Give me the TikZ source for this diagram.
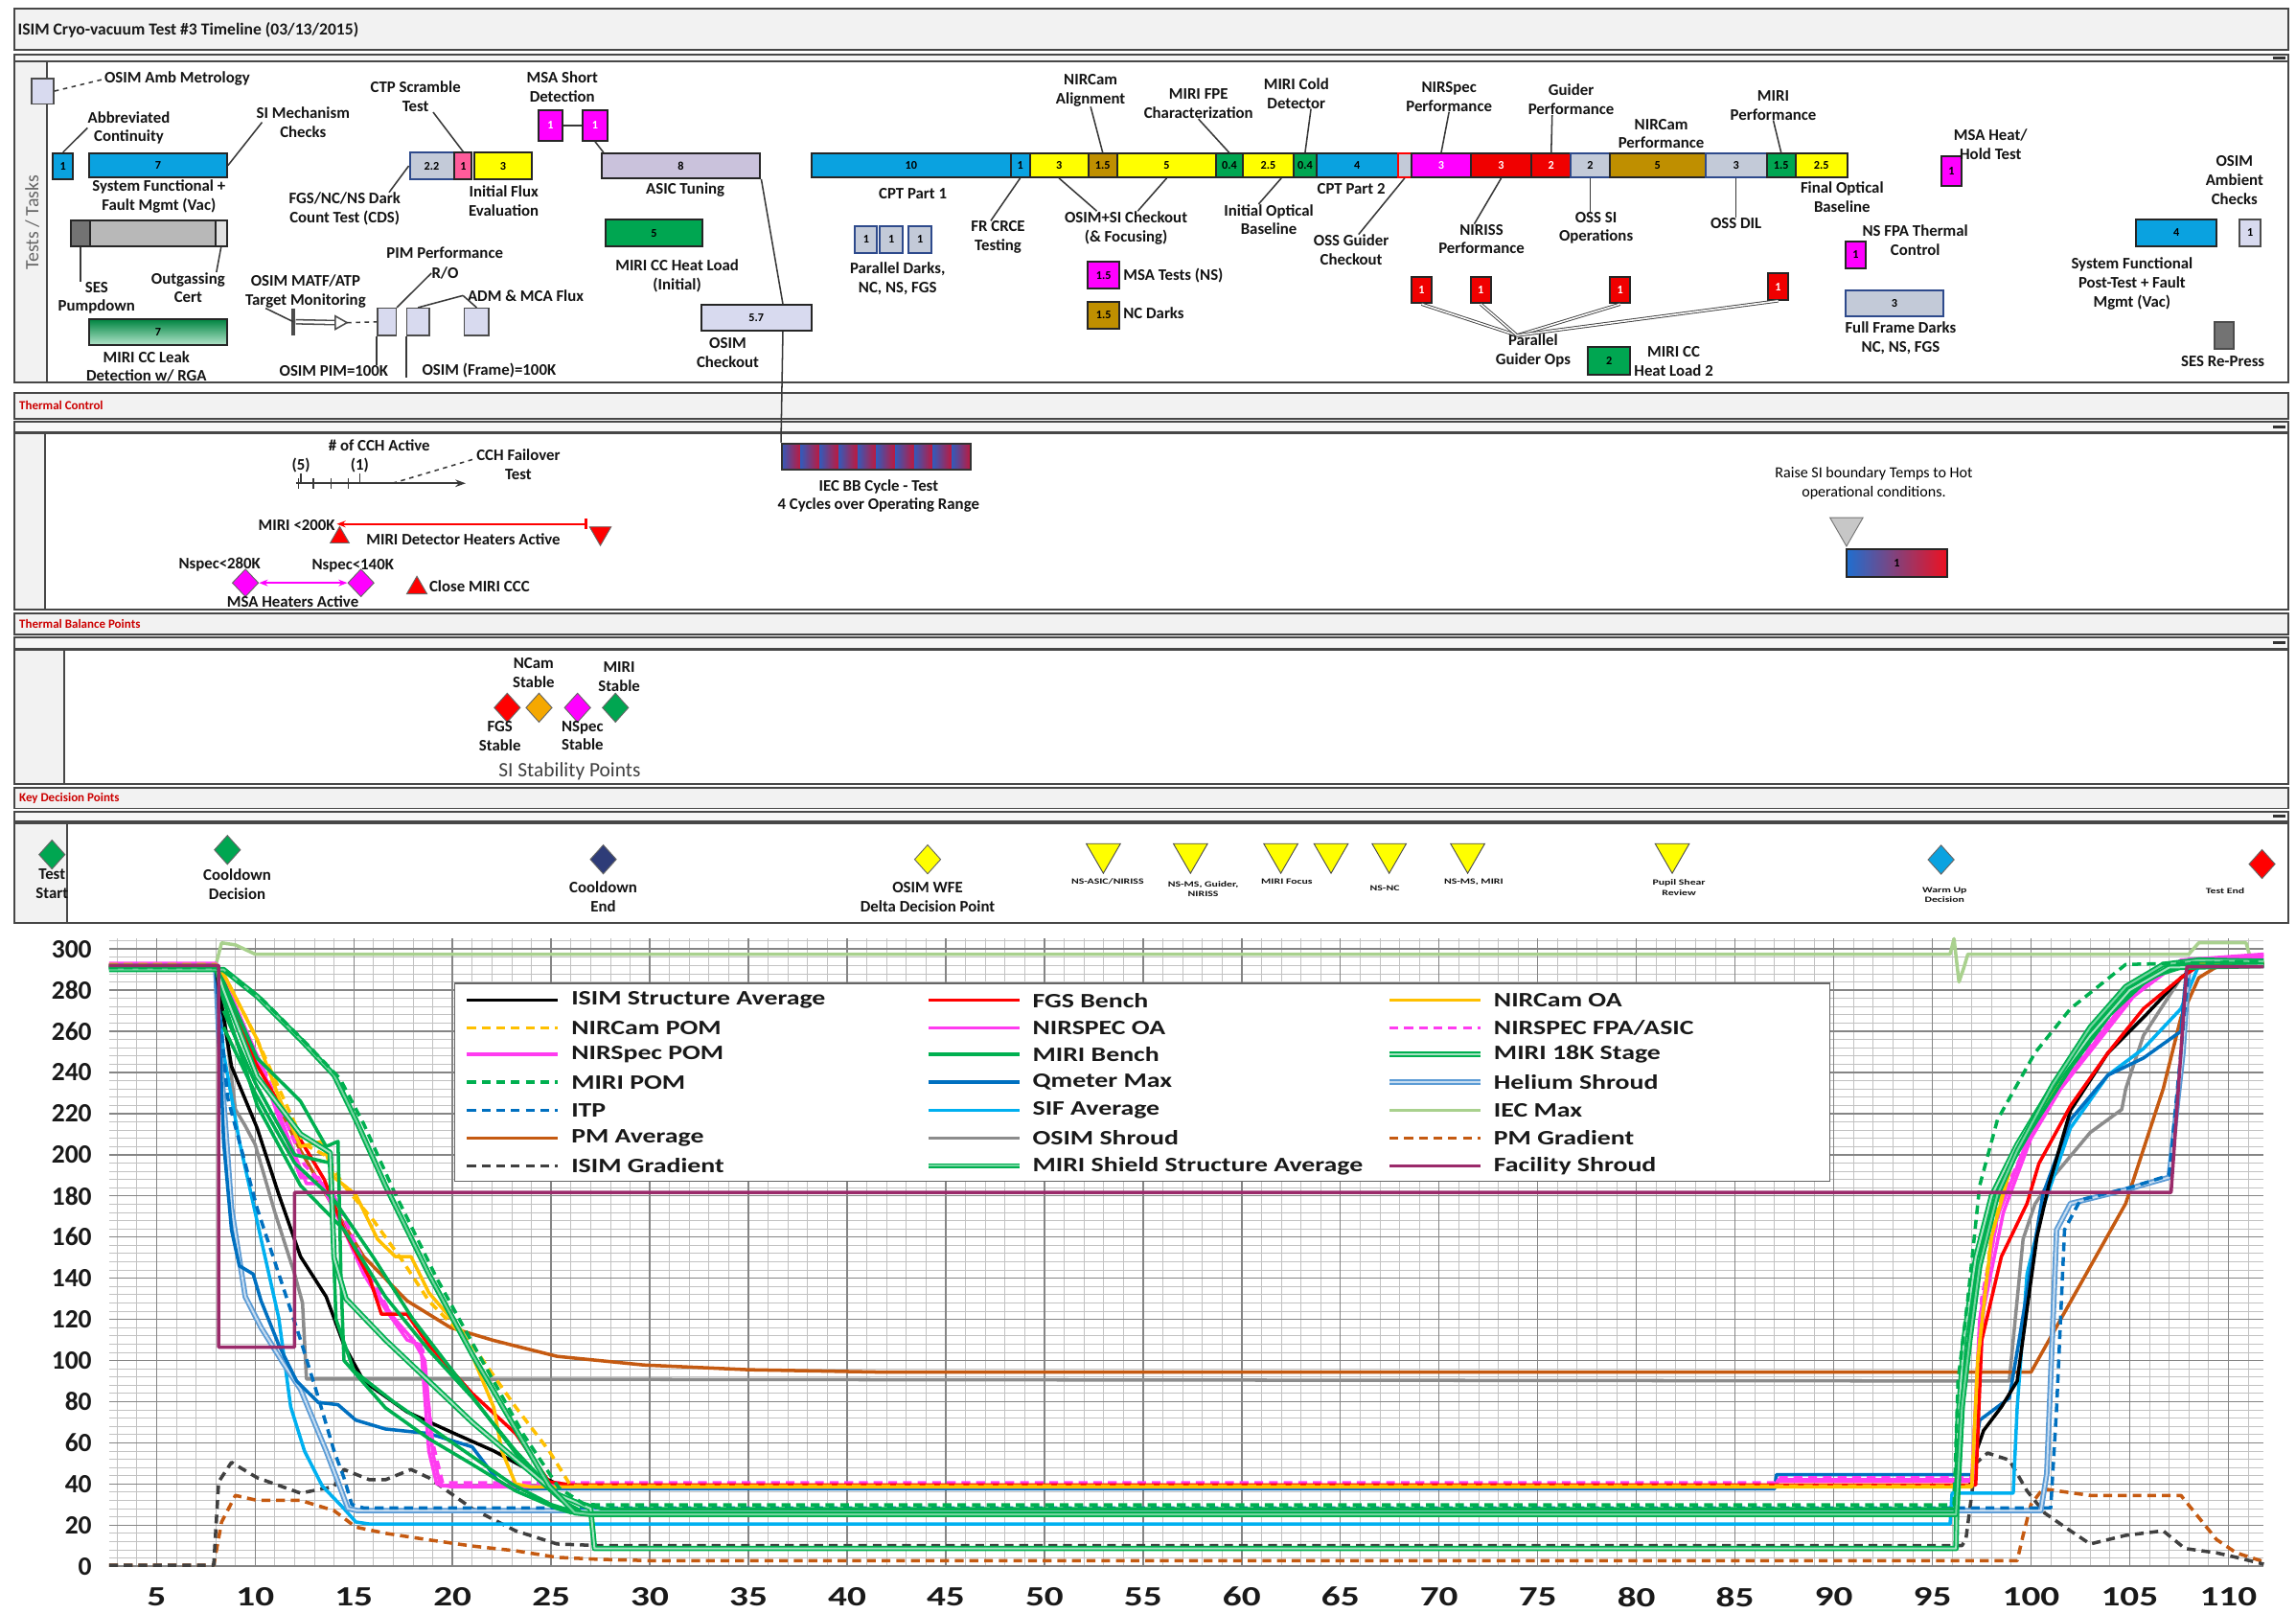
\documentclass[tikz,border=0pt]{standalone}
\usepackage{fontspec}
\setmainfont{Carlito}
\usetikzlibrary{shapes.geometric,arrows.meta}
\definecolor{cblue}{HTML}{0AA2E0}
\definecolor{cyel}{HTML}{FFFF00}
\definecolor{cgold}{HTML}{BF8F00}
\definecolor{cgrn}{HTML}{00A651}
\definecolor{cmag}{HTML}{FF00FF}
\definecolor{cred}{HTML}{F00000}
\definecolor{cgray}{HTML}{C3CAD8}
\definecolor{clav}{HTML}{CAC2DC}
\definecolor{clav2}{HTML}{D8DAEF}
\definecolor{cnavy}{HTML}{2E4A8C}
\definecolor{cpink}{HTML}{FF5C9A}
\definecolor{corng}{HTML}{F5A800}
\definecolor{cdnavy}{HTML}{2E3C78}
\definecolor{iecB}{HTML}{3559B8}
\definecolor{iecR}{HTML}{C0183C}
\definecolor{wBlue}{HTML}{1F6FD0}
\definecolor{wRed}{HTML}{EE1020}
\definecolor{kIEC}{HTML}{A9D18E}
\definecolor{kFac}{HTML}{9A2A6A}
\definecolor{kPM}{HTML}{C55A11}
\definecolor{kGray}{HTML}{8C8C8C}
\definecolor{kGold}{HTML}{FFC000}
\definecolor{kMag}{HTML}{FF3CF0}
\definecolor{kGrn}{HTML}{00B050}
\definecolor{kBlue}{HTML}{0070C0}
\definecolor{kLB}{HTML}{00B0F0}
\definecolor{kHe}{HTML}{5B9BD5}
\tikzset{
 frame/.style={draw=black!72, line width=1.3pt},
 tbox/.style={draw=black!85, line width=1.3pt, inner sep=0pt, font=\fontsize{8}{8}\selectfont\bfseries},
 lbl/.style={font=\fontsize{11}{13}\selectfont\bfseries, align=center, inner sep=0pt, text=black!92},
 tiny/.style={font=\fontsize{5.5}{7}\selectfont\bfseries, align=center, inner sep=0pt, text=black!92},
 conn/.style={draw=black!78, line width=1pt},
 hdr/.style={font=\fontsize{8.5}{9}\selectfont\bfseries, text=red!80!black, inner sep=0pt, anchor=west},
 tri/.style={regular polygon, regular polygon sides=3, inner sep=0pt, draw=black!60, line width=0.6pt},
 dia/.style={diamond, inner sep=0pt, draw=black!60, line width=0.6pt, minimum width=18pt, minimum height=20pt},
 gmin/.style={draw=black!24, line width=0.5pt},
 gmaj/.style={draw=black!48, line width=0.9pt},
 cv/.style={line width=2.3pt, line join=round},
 dsh/.style={dash pattern=on 6pt off 4pt},
 dbl/.style={line width=1.2pt, double distance=1.3pt, line join=round},
 ylab/.style={font=\fontsize{18}{18}\selectfont\bfseries, anchor=east, inner sep=0pt, text=black!90},
 xlab/.style={font=\fontsize{19}{19}\selectfont\bfseries, inner sep=0pt, text=black!90},
 legt/.style={font=\fontsize{14}{14}\selectfont\bfseries, anchor=west, inner sep=0pt, text=black!90},
}
\newcommand{\tbx}[7]{\node[tbox,fill=#6,minimum width=#4pt,minimum height=#5pt] (#1) at (#2,#3) {#7};}
\newcommand{\lb}[4]{\node[lbl] (#1) at (#2,#3) {#4};}
\begin{document}
\begin{tikzpicture}[x=1pt,y=-1pt]
\useasboundingbox (0,0) rectangle (1568,1102);
\fill[white] (0,0) rectangle (1568,1102);

% ================= swimlane frames =================
\draw[frame, fill=black!5] (10,6) rectangle (1563,34);
\node[font=\fontsize{11.5}{12}\selectfont\bfseries, anchor=west, inner sep=0pt, text=black!90] (title) at (12,20.5) {ISIM Cryo-vacuum Test \#3 Timeline (03/13/2015)};
\draw[frame, fill=black!3] (10,37) rectangle (1563,42);
\draw[line width=2pt, black!80] (1552,39.5) -- (1561,39.5);
\draw[frame, fill=white] (10,42) rectangle (1563,261);
\draw[frame, fill=black!5] (10,42) rectangle (32,261);
\node[rotate=90, font=\fontsize{13}{13}\selectfont, text=black!60, inner sep=0pt] (ttasks) at (22,152) {Tests / Tasks};

\draw[frame, fill=black!5] (10,268) rectangle (1563,286);
\node[hdr] (hTC) at (13,277) {Thermal Control};
\draw[frame, fill=black!3] (10,288) rectangle (1563,295);
\draw[line width=2pt, black!80] (1552,291.5) -- (1561,291.5);
\draw[frame, fill=white] (10,296) rectangle (1563,416);
\draw[frame, fill=black!5] (10,296) rectangle (31,416);

\draw[frame, fill=black!5] (10,419) rectangle (1563,433);
\node[hdr] (hTB) at (13,426) {Thermal Balance Points};
\draw[frame, fill=black!3] (10,435) rectangle (1563,443);
\draw[line width=2pt, black!80] (1552,439) -- (1561,439);
\draw[frame, fill=white] (10,444) rectangle (1563,535);
\draw[frame, fill=black!5] (10,444) rectangle (44,535);

\draw[frame, fill=black!5] (10,538) rectangle (1563,552);
\node[hdr] (hKD) at (13,545) {Key Decision Points};
\draw[frame, fill=black!3] (10,554) rectangle (1563,561);
\draw[line width=2pt, black!80] (1552,557.5) -- (1561,557.5);
\draw[frame, fill=white] (10,562) rectangle (1563,630);
\draw[frame, fill=black!5] (10,562) rectangle (46,630);

% ================= Tests / Tasks =================
\tbx{bAmb}{29.2}{62.2}{15}{17.4}{clav2,draw=black!70,line width=1pt}{}
\lb{lAmb}{121}{54}{OSIM Amb Metrology}
\draw[conn, dashed] (bAmb.east) -- (lAmb.west);
\tbx{bCont}{43}{113.4}{14}{17.5}{cblue}{1}
\lb{lAbbr}{88}{87.3}{Abbreviated\\Continuity}
\draw[conn] (lAbbr.west) -- (bCont.north);
\tbx{bSF}{108}{113}{94}{16.5}{cblue}{7}
\lb{lSF}{108.5}{134}{System Functional +\\Fault Mgmt (Vac)}
\lb{lSIM}{207}{83.5}{SI Mechanism\\Checks}
\draw[conn] ([xshift=4pt]lSIM.west) -- (bSF.east);
\tbx{bOutM}{104.4}{159.25}{85.2}{17.5}{black!28}{}
\tbx{bOutL}{55.1}{159.25}{13.4}{17.5}{black!55}{}
\tbx{bOutR}{151}{159.25}{8}{17.5}{black!12}{}
\lb{lSES}{66}{203.4}{SES\\Pumpdown}
\draw[conn] (bOutL.south) -- (bOutL.south |- lSES.north);
\lb{lOut}{128.5}{196.4}{Outgassing\\Cert}
\draw[conn] (bOutR.south) -- ([xshift=-6pt]lOut.north east);
\node[tbox, top color=cgrn!80!black, bottom color=cgrn!30, minimum width=94pt, minimum height=17.6pt] (bLeak) at (108,226.8) {7};
\lb{lLeak}{100}{250.3}{MIRI CC Leak\\Detection w/ RGA}

\lb{lCTP}{283.8}{66}{CTP Scramble\\Test}
\tbx{b22}{294.85}{113.25}{30.1}{17.9}{cgray,draw=cnavy}{2.2}
\tbx{bPink}{316.35}{113.25}{11.7}{17.9}{cpink}{1}
\tbx{bIF}{343.5}{113.25}{39}{17.9}{cyel}{3}
\draw[conn] ([xshift=12pt]lCTP.south) -- (bPink.north);
\lb{lFGS}{235.4}{142.8}{FGS/NC/NS Dark\\Count Test (CDS)}
\draw[conn] (b22.west) -- ([xshift=-8pt]lFGS.north east);
\lb{lIF}{344}{137}{Initial Flux\\Evaluation}
\lb{lMSA}{384}{59.2}{MSA Short\\Detection}
\tbx{bM1}{376}{85.65}{16}{20.7}{cmag,text=white}{1}
\tbx{bM2}{406.35}{85.65}{16.7}{20.7}{cmag,text=white}{1}
\draw[conn] (bM1) -- (bM2);
\tbx{bASIC}{465}{113.2}{108.5}{17}{clav}{8}
\draw[conn] (bM2.south) -- ([xshift=2pt]bASIC.north west);
\lb{lASIC}{468}{129.8}{ASIC Tuning}
\tbx{bCC}{446.7}{159.2}{66.6}{18.4}{cgrn}{5}
\lb{lCC}{462.4}{188.6}{MIRI CC Heat Load\\(Initial)}

\lb{lPIM}{303.8}{172.8}{PIM Performance}
\lb{lRO}{304}{186.5}{R/O}
\lb{lMATF}{208.7}{199}{OSIM MATF/ATP\\Target Monitoring}
\node[fill=black!70, minimum width=3pt, minimum height=18.5pt, inner sep=0pt] (mBar) at (200.3,219.7) {};
\coordinate (mTip) at (237,220.3);
\draw[black!70, line width=1pt, double=white, double distance=1.8pt] (mBar.east) -- ([xshift=-7pt]mTip);
\draw[black!70, line width=1pt, fill=white] ([xshift=-8pt,yshift=4.5pt]mTip) -- (mTip) -- ([xshift=-8pt,yshift=-4.5pt]mTip) -- cycle;
\draw[conn] ([xshift=14pt]lMATF.south west) -- (mBar.center);
\tbx{bP1}{264.15}{219.75}{12.7}{18.5}{clav2,draw=black!70,line width=1pt}{}
\tbx{bP2}{285.5}{219.75}{15.4}{18.5}{clav2,draw=black!70,line width=1pt}{}
\tbx{bP3}{325.5}{219.75}{16.6}{18.5}{clav2,draw=black!70,line width=1pt}{}
\draw[conn, dashed] (mTip) -- (bP1.west);
\draw[conn] (lRO.west) -- (bP1.north east);
\lb{lADM}{359}{201.8}{ADM \& MCA Flux}
\draw[conn] ([xshift=-3pt]lADM.west) -- (bP2.north);
\draw[conn] ([xshift=-3pt]lADM.west) -- (bP3.north);
\lb{lPIMh}{228}{253}{OSIM PIM=100K}
\draw[conn] (bP1.south west) -- (bP1.south west |- lPIMh.north);
\lb{lFrame}{334}{253}{OSIM (Frame)=100K}
\draw[conn] (bP2.south west) -- (bP2.south west |- lFrame.south);
\tbx{b57}{516.5}{217}{75}{17.5}{clav2}{5.7}
\lb{lOSIMc}{497}{240.7}{OSIM\\Checkout}
\draw[conn] (bASIC.south east) -- ([xshift=-20pt]b57.north east);

% main bar
\tbx{s1}{622.25}{113}{135.9}{16}{cblue}{10}
\tbx{s2}{696.7}{113}{13}{16}{cblue}{1}
\tbx{s3}{723.2}{113}{40}{16}{cyel}{3}
\tbx{s4}{753.1}{113}{19.8}{16}{cgold}{1.5}
\tbx{s5}{796.75}{113}{67.5}{16}{cyel}{5}
\tbx{s6}{839.55}{113}{18.1}{16}{cgrn}{0.4}
\tbx{s7}{866.05}{113}{34.9}{16}{cyel}{2.5}
\tbx{s8}{891.25}{113}{15.5}{16}{cgrn}{0.4}
\tbx{s9}{926.75}{113}{55.5}{16}{cblue}{4}
\tbx{s10}{959.25}{113}{9.5}{16}{cgray,draw=red}{}
\tbx{s11}{984.2}{113}{40.4}{16}{cmag,text=white}{3}
\tbx{s12}{1025.2}{113}{41.6}{16}{cred,text=white}{3}
\tbx{s13}{1059.35}{113}{26.7}{16}{cred,text=white}{2}
\tbx{s14}{1086}{113}{26.6}{16}{cgray,draw=cnavy}{2}
\tbx{s15}{1132}{113}{65.4}{16}{cgold}{5}
\tbx{s16}{1185.6}{113}{41.8}{16}{cgray,draw=cnavy}{3}
\tbx{s17}{1216.4}{113}{19.8}{16}{cgrn}{1.5}
\tbx{s18}{1243.9}{113}{35.2}{16}{cyel}{2.5}

\lb{lNCA}{744.8}{61.6}{NIRCam\\Alignment}
\draw[conn] (lNCA.south) -- (s4.north);
\lb{lFPE}{818.5}{71}{MIRI FPE\\Characterization}
\draw[conn] (lFPE.south) -- (s6.north);
\lb{lMCD}{885.3}{63.7}{MIRI Cold\\Detector}
\draw[conn] ([xshift=10pt]lMCD.south) -- (s8.north);
\lb{lNSP}{989.6}{66}{NIRSpec\\Performance}
\draw[conn] (lNSP.south) -- (s11.north);
\lb{lGP}{1073}{68}{Guider\\Performance}
\draw[conn] ([xshift=-13pt]lGP.south) -- (s13.north);
\lb{lNCP}{1134.5}{91.3}{NIRCam\\Performance}
\lb{lMP}{1211}{71.8}{MIRI\\Performance}
\draw[conn] (lMP.south) -- (s17.north);
\lb{lCPT1}{623.4}{132}{CPT Part 1}
\lb{lFR}{681.6}{162}{FR CRCE\\Testing}
\draw[conn] (s2.south) -- ([xshift=-5pt]lFR.north);
\lb{lOSC}{769}{155.6}{OSIM+SI Checkout\\(\& Focusing)}
\draw[conn] (s3.south) -- ([xshift=-20pt]lOSC.north);
\draw[conn] (s5.south) -- ([xshift=8pt]lOSC.north);
\lb{lIOB}{866.5}{150}{Initial Optical\\Baseline}
\draw[conn] ([xshift=9pt]s7.south) -- ([xshift=-7pt]lIOB.north);
\lb{lCPT2}{922.8}{128.7}{CPT Part 2}
\lb{lOSSG}{922.8}{170.7}{OSS Guider\\Checkout}
\draw[conn] (s10.south) -- ([xshift=5pt]lOSSG.north);
\lb{lNIRISS}{1011.8}{163.3}{NIRISS\\Performance}
\draw[conn] (s12.south) -- ([xshift=-5pt]lNIRISS.north);
\lb{lOSSI}{1090}{155.6}{OSS SI\\Operations}
\draw[conn] (s14.south) -- ([xshift=-4pt]lOSSI.north);
\lb{lDIL}{1185.6}{152.7}{OSS DIL}
\draw[conn] (s16.south) -- (lDIL.north);
\lb{lFOB}{1258}{134.8}{Final Optical\\Baseline}

\tbx{bPD1}{591.5}{163.5}{15}{18}{cgray,draw=cnavy}{1}
\tbx{bPD2}{608.75}{163.5}{15.5}{18}{cgray,draw=cnavy}{1}
\tbx{bPD3}{628.35}{163.5}{15.3}{18}{cgray,draw=cnavy}{1}
\lb{lPD}{613}{190}{Parallel Darks,\\NC, NS, FGS}
\tbx{bMSAT}{753.75}{188}{21.5}{18.5}{cmag}{1.5}
\node[lbl, anchor=west] (lMSAT) at (767,188) {MSA Tests (NS)};
\tbx{bNCD}{753.75}{215.3}{21.5}{18.6}{cgold}{1.5}
\node[lbl, anchor=west] (lNCD) at (767,214) {NC Darks};

\tbx{bR1}{970.85}{198}{13.7}{18}{cred,text=white}{1}
\tbx{bR2}{1011.2}{198}{13.7}{18}{cred,text=white}{1}
\tbx{bR3}{1106.4}{198}{13.7}{18}{cred,text=white}{1}
\tbx{bR4}{1214.3}{195.75}{13.7}{18}{cred,text=white}{1}
\lb{lPGO}{1047}{239.6}{Parallel\\Guider Ops}
\coordinate (pgoC) at (1036,229);
\foreach \b in {bR1,bR2,bR3,bR4} \draw[black!75, line width=0.6pt, double=white, double distance=1pt] (\b.south) -- (pgoC);
\tbx{bCC2}{1098.9}{246.2}{28.8}{19}{cgrn}{2}
\lb{lCC2}{1143}{246.5}{MIRI CC\\Heat Load 2}
\tbx{bMHH}{1332.75}{116.75}{13.5}{20.5}{cmag}{1}
\lb{lMHH}{1359.4}{98.7}{MSA Heat/\\Hold Test}
\lb{lNSFPA}{1308}{164}{NS FPA Thermal\\Control}
\tbx{bNSF}{1267.25}{173.8}{13.5}{18.4}{cmag}{1}
\tbx{bFFD}{1293.75}{207.25}{66.5}{17.5}{cgray,draw=cnavy}{3}
\lb{lFFD}{1298}{230.8}{Full Frame Darks\\NC, NS, FGS}
\lb{lOAC}{1526}{122.9}{OSIM\\Ambient\\Checks}
\tbx{bSFP}{1486.25}{159}{54.5}{18}{cblue}{4}
\tbx{bOA1}{1536.75}{159}{14.5}{18}{clav2,draw=black!70}{1}
\lb{lSFP}{1456}{193.8}{System Functional\\Post-Test + Fault\\Mgmt (Vac)}
\tbx{bSRP}{1519}{229}{13}{18}{black!55,draw=black!70}{}
\lb{lSRP}{1518}{247}{SES Re-Press}

% ================= Thermal Control =================
\lb{lCCH}{259}{304.3}{\# of CCH Active}
\lb{l5}{205.6}{318}{(5)}
\lb{l1}{245.6}{318}{(1)}
\coordinate (cchA) at (202,330);
\coordinate (cchB) at (318,330);
\coordinate (cchC) at (268,330);
\draw[conn, -{Stealth[length=7pt,width=5pt]}] (cchA) -- (cchB);
\foreach \x in {204,214,226,238} \draw[conn] (\x,326.5) -- (\x,333.5);
\draw[conn] (l5.south) -- (l5.south |- cchA);
\draw[conn] (l1.south) -- (l1.south |- cchA);
\lb{lCCHF}{354}{317}{CCH Failover\\Test}
\draw[conn, dashed] (cchC) -- ([yshift=4pt]lCCHF.west);

\foreach \i in {0,...,9} \shade[left color=iecB, right color=iecR] ({534+12.9*\i},302.8) rectangle ({534+12.9*(\i+1)},320.7);
\node[draw=black!80, line width=1.3pt, minimum width=129pt, minimum height=17.9pt, inner sep=0pt] (bIEC) at (598.5,311.75) {};
\draw[conn] ([xshift=-20pt]b57.south east) -- (bIEC.north west);
\lb{lIEC}{600}{338.7}{IEC BB Cycle - Test\\4 Cycles over Operating Range}

\node[lbl, anchor=east] (lM200) at (229,358.5) {MIRI <200K};
\node[tri, fill=red, minimum size=15pt] (tU1) at (232,367) {};
\node[tri, fill=red, shape border rotate=180, minimum size=17pt] (tD1) at (410,364) {};
\coordinate (mhA) at (230,357.8);
\coordinate (mhB) at (401,357.8);
\draw[red, line width=1.5pt, {Stealth[length=6pt]}-{Bar[width=7pt]}] (mhA) -- (mhB);
\node[lbl, anchor=west] (lMDH) at (250,368) {MIRI Detector Heaters Active};
\lb{lNs280}{150}{385.7}{Nspec<280K}
\lb{lNs140}{241}{386}{Nspec<140K}
\node[dia, fill=cmag, minimum width=18pt, minimum height=19pt] (dN1) at (167.6,398) {};
\node[dia, fill=cmag, minimum width=18pt, minimum height=19pt] (dN2) at (246.5,398) {};
\draw[cmag, line width=1.5pt, {Stealth[length=6pt]}-{Stealth[length=6pt]}] (dN1.east) -- (dN2.west);
\lb{lMSAH}{200}{411}{MSA Heaters Active}
\node[tri, fill=red, minimum size=16pt] (tU2) at (284.7,401.5) {};
\node[lbl, anchor=west] (lCMC) at (293,400.5) {Close MIRI CCC};
\node[font=\fontsize{10.5}{12.5}\selectfont, align=center, inner sep=0pt] (lRaise) at (1279.7,330) {Raise SI boundary Temps to Hot\\operational conditions.};
\node[tri, fill=black!22, draw=black!55, shape border rotate=180, minimum size=26pt] (tG) at (1261,360) {};
\node[tbox, left color=wBlue, right color=wRed, minimum width=69.2pt, minimum height=18.6pt] (bWarm) at (1295.4,384.5) {1};

% ================= Thermal Balance =================
\node[dia, fill=red] (dFGS) at (346.4,483.2) {};
\node[dia, fill=corng] (dNC) at (368.1,483.2) {};
\node[dia, fill=cmag] (dNS) at (394.4,483.2) {};
\node[dia, fill=cgrn] (dMI) at (420.3,483.2) {};
\lb{lNCS}{364.4}{459.7}{NCam\\Stable}
\lb{lMS}{422.8}{462.3}{MIRI\\Stable}
\lb{lFS}{341.4}{502.8}{FGS\\Stable}
\lb{lNSS}{397.8}{502.3}{NSpec\\Stable}
\node[font=\fontsize{14}{14}\selectfont, inner sep=0pt, text=black!75] (lSSP) at (389,526.5) {SI Stability Points};

% ================= Key Decision Points =================
\node[dia, fill=cgrn] (dTS) at (35.5,583.5) {};
\lb{lTS}{35.5}{603.7}{Test\\Start}
\node[dia, fill=cgrn] (dCD) at (155.3,580.3) {};
\lb{lCD}{162}{603.7}{Cooldown\\Decision}
\node[dia, fill=cdnavy] (dCE) at (412,586.8) {};
\lb{lCE}{412}{612.5}{Cooldown\\End}
\node[dia, fill=cyel] (dWFE) at (633.5,586.8) {};
\lb{lWFE}{633.5}{612.5}{OSIM WFE\\Delta Decision Point}
\foreach \n/\x in {1/753.5,2/813,3/874.7,4/909,5/948.7,6/1002.3,7/1142}
  \node[tri, fill=cyel, draw=black!70, shape border rotate=180, minimum size=27pt] (tK\n) at (\x,582.8) {};
\node[tiny] (lK1) at (756.4,602) {\scalebox{1.4}[1]{NS-ASIC/NIRISS}};
\node[tiny] (lK2) at (821.7,607) {\scalebox{1.4}[1]{NS-MS, Guider,}\\\scalebox{1.4}[1]{NIRISS}};
\node[tiny] (lK3) at (878.8,602) {\scalebox{1.4}[1]{MIRI Focus}};
\node[tiny] (lK5) at (945.7,606.7) {\scalebox{1.4}[1]{NS-NC}};
\node[tiny] (lK6) at (1006.4,602) {\scalebox{1.4}[1]{NS-MS, MIRI}};
\node[tiny] (lK7) at (1146.6,606) {\scalebox{1.4}[1]{Pupil Shear}\\\scalebox{1.4}[1]{Review}};
\node[dia, fill=cblue] (dWU) at (1325.6,587) {};
\node[tiny] (lWU) at (1328,611) {\scalebox{1.4}[1]{Warm Up}\\\scalebox{1.4}[1]{Decision}};
\node[dia, fill=red] (dTE) at (1544.8,590) {};
\node[tiny] (lTE) at (1519.6,608.6) {\scalebox{1.4}[1]{Test End}};

% ================= Chart =================
\begin{scope}[shift={(39.5pt,-1069.4pt)}, x=13.475pt, y=1.4047pt]
\foreach \t in {3,...,111} \draw[gmin] (\t,0) -- (\t,305);
\foreach \v in {4,8,...,304} \draw[gmin] (2.6,\v) -- (111.8,\v);
\foreach \t in {5,10,...,110} \draw[gmaj] (\t,0) -- (\t,305);
\foreach \v in {0,20,...,300} \draw[gmaj] (2.6,\v) -- (111.8,\v);
\foreach \v in {0,20,...,300} \node[ylab] (yl\v) at (1.73,\v) {\v};
\foreach \t in {5,10,...,110} \node[xlab] (xl\t) at (\t,-14.9) {\scalebox{1.35}[1]{\t}};

% curves
\draw[cv, kIEC] plot coordinates {(2.6,292) (8,292) (8.3,303) (9,302) (10,297.5) (95.9,297.5) (96.1,305) (96.35,284) (96.6,291) (96.8,297.5) (108,297.5) (108.5,303) (110.9,303) (111.2,293) (111.8,293)};
\draw[cv, kGray] plot coordinates {(2.6,291.5) (8,291.5) (8.5,262) (9,222) (9.5,214) (10,205) (11,172) (12,142) (12.4,128) (12.6,91) (98.9,90) (99.1,110) (99.6,159) (100.2,176) (101.1,189) (103,210.8) (104.6,222) (104.8,232) (105.7,258) (107.6,286) (108.5,292) (111.8,292)};
\draw[cv, kPM] plot coordinates {(2.6,292) (8,292) (8.4,282) (10.1,245) (12.3,202) (14,174) (15.5,150.5) (17.7,129) (19.9,116) (22.1,109.7) (25.3,102) (29.7,97.8) (35,95.5) (42,94.3) (100,94.3) (104.8,176.3) (106.7,232) (107.6,266.7) (108.5,286) (109.6,292.5) (111.8,293)};
\draw[cv, kPM, dsh] plot coordinates {(2.6,0.5) (7.9,0.5) (8.3,21.5) (9,34.4) (10.1,32) (12.3,32) (14,27) (15.1,19) (16.6,16) (18.8,12.8) (21,9.8) (23.2,7.5) (25.3,4.3) (27.5,3.3) (30,2.7) (99.3,2.7) (99.6,15) (100,30) (100.6,37.6) (103,34.4) (107.6,34.4) (108.5,23.7) (109.4,13) (110.4,6.5) (111.8,2.2)};
\draw[cv, black!75, dsh] plot coordinates {(2.6,0.5) (7.9,0.5) (8.15,41) (8.8,50.5) (10.1,43) (12.3,35.5) (14,38.7) (14.5,47) (15.8,42) (16.6,42) (17.9,47) (18.8,43) (21,28) (23.2,17.2) (25.3,10.8) (27.5,10) (96.5,10) (96.7,13) (97.2,50) (97.8,55) (98.9,51.6) (99.8,36.6) (100.7,25.8) (102,17.2) (103,10.8) (104.8,15) (106.7,17.2) (107.8,8.6) (109.4,6.5) (110.4,4.3) (111.8,1)};
\draw[cv, kLB] plot coordinates {(2.6,292) (8,292) (8.4,249.5) (9.2,206.5) (9.7,185) (10.3,159) (11.2,120.5) (11.8,77.5) (12.5,56) (13.4,39) (14.5,28) (15.1,21.5) (15.8,20.5) (95.9,20.5) (96,35.5) (99.1,35.5) (99.3,77) (99.8,142) (100.6,174) (102,213) (103.9,238.7) (105.7,251.6) (107.6,271) (108.5,292) (111.8,292)};
\draw[dbl, kHe, double=kHe!35] plot coordinates {(2.6,291) (8,291) (8.15,260) (8.8,174) (9.5,131) (10.3,116) (11.4,99) (12.3,86) (13.6,56) (14.2,41) (14.7,28) (15.2,27) (100.5,27) (100.8,45) (101.3,163.5) (102,176.3) (104.8,183) (107,189) (107.7,249.5) (108,292) (111.8,292)};
\draw[cv, kBlue, dsh] plot coordinates {(2.6,292) (8,292) (8.6,228) (10.1,174) (11.2,142) (12.3,110) (13.2,82) (14,56) (14.5,43) (14.9,30) (15.5,28.3) (101,28.3) (101.3,77) (101.7,163.5) (102.5,178) (105,184) (107,190) (107.6,250) (108,292) (111.8,292)};
\draw[cv, kBlue] plot coordinates {(2.6,292) (8,292) (8.15,270) (8.4,206.5) (8.8,163.5) (9.2,146) (9.9,142) (10.3,129) (11.2,107.5) (12.1,90) (13.2,79.6) (14.2,78.5) (15.1,71) (16.6,66.7) (18.8,64.5) (21,58) (22.5,39) (23.5,37.6) (87,37.6) (87.1,44.5) (97,44.5) (97.4,71) (98.9,81.7) (99.4,110) (100.6,180.6) (102,217) (103.9,238.7) (105.7,247) (107.6,260) (107.9,292.5) (111.8,293)};
\draw[cv, black] plot coordinates {(2.6,291) (8,291) (8.8,243) (10.1,213) (11.2,180.6) (12.3,150.5) (13.6,131) (14.5,107.5) (15.5,90) (17.7,75) (20.1,64.5) (22.1,56) (24.2,45) (25.3,40) (27,39) (96.9,39) (97.2,55) (97.6,66) (98.5,77.4) (99.3,90) (99.8,125) (100.3,160) (100.9,185) (102,221.5) (103.9,249.5) (105.7,266.7) (107.6,286) (108.5,292.5) (111.8,292.5)};
\draw[cv, kMag, dsh] plot coordinates {(2.6,292) (8,292) (8.5,280) (10.5,240) (12.5,195) (14,180) (15.5,148) (17,120) (18.5,105) (19,60) (19.5,40.5) (87,40.5) (87.2,43) (97,43) (97.5,130) (98.5,178) (100,210) (102,240) (104,265) (106,285) (108,294) (111.8,296)};
\draw[cv, kMag] plot coordinates {(2.6,292.5) (8,292.5) (8.5,283) (10.2,246) (11.8,205) (12.6,186) (13.5,186) (14.7,160) (15.8,138) (17,121) (18,110) (18.6,100) (19,55) (19.4,39) (87,39) (87.2,42) (97.1,42) (97.6,125) (98.6,172) (100,208) (101.5,232) (103.4,255) (105.2,277) (107,290) (108,295) (111.8,296)};
\draw[cv, kMag] plot coordinates {(2.6,293) (8,293) (8.4,286) (10,250) (11.5,210) (12.3,189) (13.2,189) (14.5,163.5) (15.5,142) (16.6,125) (17.7,110) (18.4,107.5) (18.8,56) (19.2,40) (20,38.5) (87,38.5) (87.2,41.5) (97,41.5) (97.4,120) (98.3,170) (99.8,206.5) (101.1,228) (103,251.6) (104.8,275) (106.7,288) (107.6,294.6) (111.8,297.5)};
\draw[cv, red] plot coordinates {(2.6,291.5) (8,291.5) (8.5,282) (10,245) (12,212) (13.5,188) (14.5,163.5) (15.8,140) (16.4,122.5) (17.7,122.5) (18.8,107.5) (21,84) (23.2,64.5) (24.9,41) (26,39.5) (97.2,39.5) (97.5,109.7) (98.5,150.5) (99.8,176.3) (100.4,195.7) (102,223.7) (103.9,249.5) (105.7,271) (107.6,286) (108.5,292) (111.8,292.5)};
\draw[cv, kGold] plot coordinates {(2.6,292) (8,292) (8.4,288) (10.1,256) (11.2,228) (12.3,204) (13.4,206.5) (14,189) (15.1,180.6) (16.2,159) (17.1,150.5) (17.9,150.5) (18.8,133) (20.5,114) (22.1,77) (22.5,56) (23.2,40) (24,38.5) (97,38.5) (97.3,100) (98,160) (99,195) (100,215) (102,245) (104,270) (106,287) (108,293) (111.8,293.5)};
\draw[cv, kGold, dsh] plot coordinates {(2.6,292.5) (8,292.5) (8.5,286) (10,258) (11.5,226) (12.5,205) (13.5,200) (14.5,185) (16,168) (17.5,148) (18.8,129) (21,107.5) (23.2,77.4) (24.9,56) (26,39) (97,39) (97.3,100) (98,162) (99,197) (100,217) (102,247) (104,272) (106,288) (108,293.5) (111.8,294)};
\draw[cv, kGrn] plot coordinates {(8.4,270) (10,235) (12,200) (13.8,196) (14.1,120) (15,95) (17,80) (20,60) (23,40) (25,30) (26,27)};
\draw[cv, kGrn] plot coordinates {(8.4,262) (10,230) (12,196) (14,178) (16,150) (18,120) (20,95) (22,70) (24,45) (25.5,32) (26.5,27)};
\draw[cv, kGrn] plot coordinates {(2.6,290.5) (8,290.5) (8.4,275) (10.1,224) (12.3,185) (14.5,163.5) (16.6,131) (18.8,105) (21,82) (23.2,56) (25.3,34.5) (27.5,28) (96.3,28) (96.6,85) (97.1,128) (97.8,165) (98.8,192) (100,212) (102,242) (104,268) (106,286) (108,292) (111.8,292)};
\draw[cv, kGrn] plot coordinates {(2.6,291) (8,291) (8.4,284) (10.1,247) (12.3,226) (13.6,204) (14.2,206.5) (14.35,140) (14.5,100) (16.6,77) (18.8,62) (21,49.5) (23.2,36.6) (25.3,28) (26,26) (96.2,26) (96.5,80) (97,125) (97.6,160) (98.5,188) (99.5,208) (101.5,238) (103.5,265) (105.5,284) (107.5,292) (111.8,292)};
\draw[dbl, kGrn, double=kGrn!35] plot coordinates {(2.6,291.5) (8,291.5) (8.4,280) (10.1,238) (12.3,210) (13.8,201) (14,150) (14.6,130) (16.6,110) (18.8,90) (21,70) (23.2,52) (25.3,35) (27,28) (27.2,8.6) (96.2,8.6) (96.3,70) (96.6,110) (97.2,150) (98,180) (99.3,205) (101,232) (103,258) (105,280) (107,291) (111.8,292)};
\draw[dbl, kGrn, double=kGrn!55] plot coordinates {(2.6,290) (8,290) (8.4,290) (10.1,277) (12.3,256) (14,238.7) (15.1,217) (16.6,185) (18.8,142) (21,103) (23.2,66.7) (24.9,39) (26.2,26) (27,25.2) (96.2,25.2) (96.5,77) (96.9,110) (97.4,146) (98.3,180.6) (99.3,202) (101.1,234) (103,262) (104.8,281.7) (106.7,292.5) (108.5,294.6) (111.8,294)};
\draw[cv, kGrn, dsh] plot coordinates {(2.6,291) (8,291) (8.5,289) (10.3,276) (12.5,255) (14.3,237) (15.5,215) (17,183) (19.2,140) (21.5,100) (23.6,64) (25.4,38) (26.7,30) (27.5,29.8) (96.1,29.8) (96.3,90) (96.8,130) (97.4,185) (98.3,217) (100.2,249.5) (102,271) (104.8,292.5) (111.8,294)};
\draw[cv, kFac] plot coordinates {(2.6,292) (8.15,292) (8.15,106.5) (12,106.5) (12,181.7) (107.1,181.7) (107.9,291.4) (111.8,291.4)};
\end{scope}

% legend
\node[draw=black!60, fill=white, line width=1pt, minimum width=939pt, minimum height=135pt, anchor=north west, inner sep=0pt] (leg) at (310,671) {};
\draw[cv, black] (319,683) -- (381,683);
\node[legt] (g1) at (390,683) {\scalebox{1.3}[1]{ISIM Structure Average}};
\draw[cv, kGold, dsh] (319,702) -- (381,702);
\node[legt] (g2) at (390,702) {\scalebox{1.3}[1]{NIRCam POM}};
\draw[cv, kMag] (319,720) -- (381,720);
\node[legt] (g3) at (390,720) {\scalebox{1.3}[1]{NIRSpec POM}};
\draw[cv, kGrn, dsh] (319,739) -- (381,739);
\node[legt] (g4) at (390,739) {\scalebox{1.3}[1]{MIRI POM}};
\draw[cv, kBlue, dsh] (319,758) -- (381,758);
\node[legt] (g5) at (390,758) {\scalebox{1.3}[1]{ITP}};
\draw[cv, kPM] (319,777) -- (381,777);
\node[legt] (g6) at (390,777) {\scalebox{1.3}[1]{PM Average}};
\draw[cv, black!75, dsh] (319,796) -- (381,796);
\node[legt] (g7) at (390,796) {\scalebox{1.3}[1]{ISIM Gradient}};
\draw[cv, red] (634,683) -- (696,683);
\node[legt] (g8) at (705,683) {\scalebox{1.3}[1]{FGS Bench}};
\draw[cv, kMag] (634,702) -- (696,702);
\node[legt] (g9) at (705,702) {\scalebox{1.3}[1]{NIRSPEC OA}};
\draw[cv, kGrn] (634,720) -- (696,720);
\node[legt] (g10) at (705,720) {\scalebox{1.3}[1]{MIRI Bench}};
\draw[cv, kBlue] (634,739) -- (696,739);
\node[legt] (g11) at (705,739) {\scalebox{1.3}[1]{Qmeter Max}};
\draw[cv, kLB] (634,758) -- (696,758);
\node[legt] (g12) at (705,758) {\scalebox{1.3}[1]{SIF Average}};
\draw[cv, kGray] (634,777) -- (696,777);
\node[legt] (g13) at (705,777) {\scalebox{1.3}[1]{OSIM Shroud}};
\draw[dbl, kGrn, double=kGrn!55] (634,796) -- (696,796);
\node[legt] (g14) at (705,796) {\scalebox{1.3}[1]{MIRI Shield Structure Average}};
\draw[cv, kGold] (949,683) -- (1011,683);
\node[legt] (g15) at (1020,683) {\scalebox{1.3}[1]{NIRCam OA}};
\draw[cv, kMag, dsh] (949,702) -- (1011,702);
\node[legt] (g16) at (1020,702) {\scalebox{1.3}[1]{NIRSPEC FPA/ASIC}};
\draw[dbl, kGrn, double=kGrn!35] (949,720) -- (1011,720);
\node[legt] (g17) at (1020,720) {\scalebox{1.3}[1]{MIRI 18K Stage}};
\draw[dbl, kHe, double=kHe!35] (949,739) -- (1011,739);
\node[legt] (g18) at (1020,739) {\scalebox{1.3}[1]{Helium Shroud}};
\draw[cv, kIEC] (949,758) -- (1011,758);
\node[legt] (g19) at (1020,758) {\scalebox{1.3}[1]{IEC Max}};
\draw[cv, kPM, dsh] (949,777) -- (1011,777);
\node[legt] (g20) at (1020,777) {\scalebox{1.3}[1]{PM Gradient}};
\draw[cv, kFac] (949,796) -- (1011,796);
\node[legt] (g21) at (1020,796) {\scalebox{1.3}[1]{Facility Shroud}};
\end{tikzpicture}
\end{document}
